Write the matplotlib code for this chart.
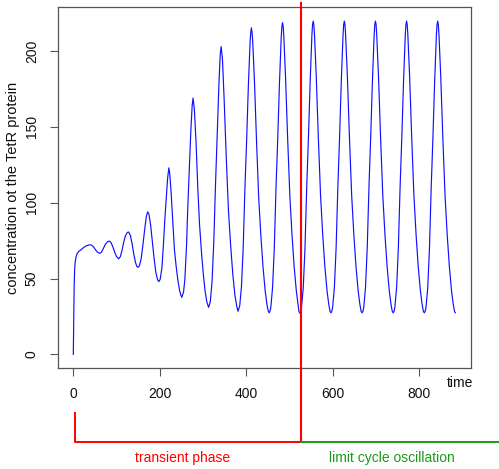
import matplotlib
matplotlib.use("Agg")
import matplotlib.pyplot as plt
from matplotlib.lines import Line2D
from matplotlib.transforms import blended_transform_factory

plt.rcParams['font.family'] = ['Liberation Sans', 'DejaVu Sans']

# ---- data ----
time = [0, 1, 2, 3, 4, 6, 9, 13, 18, 24, 30, 35, 40, 45, 50, 55, 61,
        65, 69, 74, 79, 84, 88, 92, 96, 100, 105,
        109, 113, 117, 121, 125, 128, 132, 136, 140, 144, 147, 150,
        153, 157, 161, 165, 169, 172, 175, 179, 183, 187, 191, 195, 198,
        201, 205, 208, 212, 215, 218, 221, 223, 226, 230, 234, 238, 242, 246, 249, 251,
        255, 258, 262, 265, 269, 272, 275, 277, 280, 284, 288, 292, 297, 301, 305, 309, 313,
        317, 321, 325, 329, 333, 337, 340, 342, 345, 349, 354, 359, 364, 369, 374, 378, 381,
        385, 389, 393, 397, 401, 405, 409, 410.5, 412, 413.5, 415, 419, 424, 429, 434, 439, 444, 448, 451, 453,
        455, 457, 461, 465, 469, 473, 477, 481, 482.5, 484, 485.5, 487, 491, 496, 501, 506, 511, 516, 520, 522, 524,
        526, 528, 532, 536, 540, 544, 548, 552, 553.5, 555, 556.5, 558, 562, 567, 572, 577, 582, 587, 591, 594, 596,
        598, 600, 604, 608, 612, 616, 620, 624, 625.5, 627, 628.5, 630, 634, 639, 644, 649, 654, 659, 663, 666, 668,
        670, 672, 676, 680, 684, 688, 692, 696, 697.5, 699, 700.5, 702, 706, 711, 716, 721, 726, 731, 735, 738, 740,
        742, 744, 748, 752, 756, 760, 764, 768, 769.5, 771, 772.5, 774, 778, 783, 788, 793, 798, 803, 807, 810, 812,
        814, 816, 820, 824, 828, 832, 836, 840, 841.5, 843, 844.5, 846, 850, 855, 860, 865, 870, 875, 879, 882, 884]

tetr = [0, 25, 45, 55, 60, 64, 66.5, 68, 69, 70.5, 71.6, 72.1, 72.3, 71.5, 69.6, 67.6, 66.6,
        67.3, 69.5, 72.5, 74.3, 74.7, 73.3, 70.5, 67.2, 64.5, 63,
        64.5, 69, 74.5, 78.5, 80.4, 80.7, 78.5, 73, 66, 60.5, 58, 57.4,
        58.5, 63, 72, 82, 91, 94, 92.5, 85, 74, 63, 54, 49.2, 48,
        49.5, 57, 70, 90, 103, 115.5, 123, 119.6, 108, 88, 69, 58, 48.7, 42, 39, 37.6,
        41, 49, 72, 98, 126, 148, 164, 169, 162, 140, 110, 86, 65.5, 52.4, 41.5, 34.5, 31,
        34.8, 48, 74, 112, 144.5, 179, 198, 203, 195, 168, 129, 94.7, 72, 52.8, 38.9, 31.9, 28.4,
        32, 44.5, 70, 109, 141, 177, 206, 212, 215.4, 212.5, 207, 181, 140, 103, 78, 57.3, 41.7, 32.9, 28.6, 27.4,
        28.4, 31, 44, 70, 110, 142.6, 179, 209, 216, 218.7, 216.5, 210, 183, 141.5, 104.6, 78.7, 57.7, 41.8, 32.8, 28.3, 27.2,
        28.3, 31.1, 44, 70, 110, 143, 180, 210.4, 217.5, 219.8, 217.5, 210.7, 184, 142.3, 105, 79, 58, 42, 33, 28.3, 27.4,
        28.3, 31.1, 44, 70, 110, 143, 180, 210.4, 217.5, 219.8, 217.5, 210.7, 184, 142.3, 105, 79, 58, 42, 33, 28.3, 27.4,
        28.3, 31.1, 44, 70, 110, 143, 180, 210.4, 217.5, 219.8, 217.5, 210.7, 184, 142.3, 105, 79, 58, 42, 33, 28.3, 27.4,
        28.3, 31.1, 44, 70, 110, 143, 180, 210.4, 217.5, 219.8, 217.5, 210.7, 184, 142.3, 105, 79, 58, 42, 33, 28.3, 27.4,
        28.3, 31.1, 44, 70, 110, 143, 180, 210.4, 217.5, 219.8, 217.5, 210.7, 184, 142.3, 105, 79, 58, 42, 33, 28.3, 27.4]

x_ticks = [0, 200, 400, 600, 800]
y_ticks = [0, 50, 100, 150, 200]
t_start = 5          # start of the transient bracket
t_switch = 527       # boundary transient / limit cycle
phase_labels = ["transient phase", "limit cycle oscillation"]
phase_label_x = [252, 737]
phase_colors = ["#FF0000", "#1A9A1A"]

# ---- figure ----
W, H = 499, 469
fig = plt.figure(figsize=(W / 100, H / 100), dpi=100)
ax = fig.add_axes([58 / W, 1 - 367.7 / H, (470.7 - 58) / W, (367.7 - 7.3) / H])

ax.plot(time, tetr, color="#1010FF", lw=0.85)
ax.set_xlim(-35.4, 919.4)
ax.set_ylim(-8.8, 228.9)
ax.set_xticks(x_ticks)
ax.set_yticks(y_ticks)

axis_col = "#555555"
for s in ax.spines.values():
    s.set_color(axis_col)
    s.set_linewidth(0.9)
ax.tick_params(direction="out", length=5.8, width=0.8, color=axis_col,
               labelsize=10, labelcolor="#111111", pad=8)
ax.tick_params(axis="y", labelrotation=90)
for lab in ax.get_yticklabels():
    lab.set_va("center")

fig.text(13 / W, 1 - 187.5 / H, "concentration ot the TetR protein",
         rotation=90, ha="center", va="center", fontsize=10.5, color="#111111")
fig.text(460 / W, 1 - 382.7 / H, "time", ha="center", va="center",
         fontsize=10, color="#111111")

trans = blended_transform_factory(ax.transData, fig.transFigure)
y_top = 1 - 2.7 / H
y_br = 1 - 442 / H
y_br_top = 1 - 413.3 / H
y_txt = 1 - 458 / H

fig.add_artist(Line2D([t_switch, t_switch], [y_top, y_br], transform=trans,
                      color=phase_colors[0], lw=1.5))
fig.add_artist(Line2D([t_start, t_start, t_switch], [y_br_top, y_br, y_br],
                      transform=trans, color=phase_colors[0], lw=1.4))
fig.add_artist(Line2D([t_switch, 1000], [y_br, y_br], transform=trans,
                      color=phase_colors[1], lw=1.4))
for lbl, xx, c in zip(phase_labels, phase_label_x, phase_colors):
    ax.text(xx, y_txt, lbl, transform=trans, ha="center", va="center",
            fontsize=10, color=c, clip_on=False)

fig.savefig("out.png", dpi=100)
